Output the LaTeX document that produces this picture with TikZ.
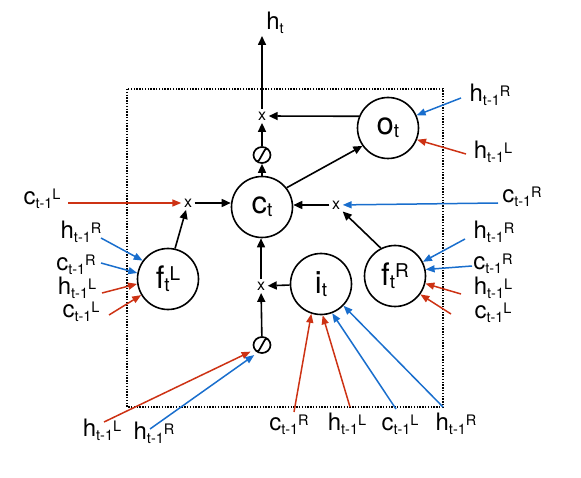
\documentclass[tikz,border=0pt]{standalone}
\usepackage{fontspec}
\setmainfont{TeX Gyre Heros}
\usetikzlibrary{arrows.meta,shapes.geometric}
\definecolor{myred}{RGB}{205,50,20}
\definecolor{myblue}{RGB}{25,110,205}
\newcommand\mylab[3]{#1{\fontsize{14.5}{14.5}\selectfont\raisebox{-3.5pt}{#2}\raisebox{5pt}{#3}}}
\newcommand\gatelab[3]{#1{\fontsize{19}{19}\selectfont\raisebox{-3pt}{#2}\raisebox{8pt}{#3}}}
\begin{document}
\begin{tikzpicture}[x=1pt,y=-1pt,
  gate/.style={circle,draw,line width=1.6pt,minimum size=61pt,inner sep=0pt,font=\fontsize{31}{31}\selectfont},
  mult/.style={inner sep=2.5pt,font=\fontsize{16}{16}\selectfont},
  squash/.style={ellipse,draw,line width=1.7pt,minimum width=17pt,minimum height=16pt,inner sep=0pt,
    path picture={\draw[line width=1.7pt]
      ([shift={(-7pt,-6pt)}]path picture bounding box.center) .. controls
      ([shift={(-3pt,-8pt)}]path picture bounding box.center) and
      ([shift={(-2pt,-3pt)}]path picture bounding box.center) ..
      (path picture bounding box.center) .. controls
      ([shift={(2pt,3pt)}]path picture bounding box.center) and
      ([shift={(3pt,8pt)}]path picture bounding box.center) ..
      ([shift={(7pt,6pt)}]path picture bounding box.center);}},
  lab/.style={font=\fontsize{24}{24}\selectfont,inner sep=0pt},
  blk/.style={line width=1.6pt,-{Triangle[length=9pt,width=8pt]}},
  rarr/.style={myred,line width=1.5pt,-{Triangle[length=9pt,width=7pt]}},
  barr/.style={myblue,line width=1.5pt,-{Triangle[length=9pt,width=7pt]}}]
\useasboundingbox (0,0) rectangle (581,478);
\draw[line width=1.4pt,dash pattern=on 1.4pt off 1.4pt] (127,89) rectangle (443,407);
% gates
\node[gate] (ct) at (262,207) {\gatelab{c}{t}{}};
\node[gate] (ot) at (388,128) {\gatelab{o}{t}{}};
\node[gate] (it) at (321,284) {\gatelab{i}{t}{}};
\node[gate] (fL) at (168,279) {\gatelab{f}{t}{L}};
\node[gate] (fR) at (395,276) {\gatelab{f}{t}{R}};
\node[mult] (xo) at (262,116) {x};
\node[mult] (xl) at (188,203) {x};
\node[mult] (xr) at (336,205) {x};
\node[mult] (xi) at (261,286) {x};
\node[squash] (tc) at (262,155) {};
\node[squash] (ti) at (262,345) {};
\node[lab] (ht) at (275,23) {\mylab{h}{t}{}};
\coordinate (htip) at (262,36);
% black connectors
\draw[blk] (xo) -- (htip);
\draw[blk] (ot.158) -- (xo);
\draw[blk] (tc) -- (xo);
\draw[blk] (ct) -- (tc);
\draw[blk] (ct.38) -- (ot.215);
\draw[blk] (xl) -- (xl -| ct.west);
\draw[blk] (xr) -- (xr -| ct.east);
\draw[blk] (xi) -- (xi |- ct.south);
\draw[blk] (it) -- (xi);
\draw[blk] (ti) -- (xi);
\draw[blk] (fL.77) -- (xl);
\draw[blk] (fR.117) -- (xr);
% labels left
\node[lab] (lcL) at (42,199) {\mylab{c}{t-1}{L}};
\node[lab] (lfh1) at (81,232) {\mylab{h}{t-1}{R}};
\node[lab] (lfc1) at (76,265) {\mylab{c}{t-1}{R}};
\node[lab] (lfh2) at (77,288) {\mylab{h}{t-1}{L}};
\node[lab] (lfc2) at (81,312) {\mylab{c}{t-1}{L}};
\coordinate (a0) at (68,203);
\coordinate (a1) at (101,238);
\coordinate (a2) at (101,263);
\coordinate (a3) at (102,293);
\coordinate (a4) at (109,315);
\draw[rarr] (a0) -- (xl);
\draw[barr] (a1) -- (fL.144.5);
\draw[barr] (a2) -- (fL.169);
\draw[rarr] (a3) -- (fL.189);
\draw[rarr] (a4) -- (fL.211);
% labels right
\node[lab] (rcR) at (522,197) {\mylab{c}{t-1}{R}};
\node[lab] (rfh1) at (494,232) {\mylab{h}{t-1}{R}};
\node[lab] (rfc1) at (493,264) {\mylab{c}{t-1}{R}};
\node[lab] (rfh2) at (493,288) {\mylab{h}{t-1}{L}};
\node[lab] (rfc2) at (493,313) {\mylab{c}{t-1}{L}};
\coordinate (b0) at (498,203);
\coordinate (b1) at (465,239);
\coordinate (b2) at (472,266);
\coordinate (b3) at (461,294);
\coordinate (b4) at (451,314);
\draw[barr] (b0) -- (xr);
\draw[barr] (b1) -- (fR.27);
\draw[barr] (b2) -- (fR.12);
\draw[rarr] (b3) -- (fR.-14);
\draw[rarr] (b4) -- (fR.-36);
% o_t inputs
\node[lab] (oh1) at (490,95) {\mylab{h}{t-1}{R}};
\node[lab] (oh2) at (493,152) {\mylab{h}{t-1}{L}};
\coordinate (o1) at (461,98);
\coordinate (o2) at (466,154);
\draw[barr] (o1) -- (ot.24);
\draw[rarr] (o2) -- (ot.-22);
% bottom
\node[lab] (th1) at (102,430) {\mylab{h}{t-1}{L}};
\node[lab] (th2) at (154,433) {\mylab{h}{t-1}{R}};
\node[lab] (ic1) at (289,425) {\mylab{c}{t-1}{R}};
\node[lab] (ih1) at (347,424) {\mylab{h}{t-1}{L}};
\node[lab] (ic2) at (400,425) {\mylab{c}{t-1}{L}};
\node[lab] (ih2) at (456,424) {\mylab{h}{t-1}{R}};
\coordinate (t1) at (104,422);
\coordinate (t2) at (150,429);
\coordinate (i1) at (294,412);
\coordinate (i2) at (350,407);
\coordinate (i3) at (396,409);
\coordinate (i4) at (443,407);
\draw[rarr,shorten >=4pt] (t1) -- (ti.212);
\draw[barr,shorten >=4pt] (t2) -- (ti.240);
\draw[rarr] (i1) -- (it.-108);
\draw[rarr] (i2) -- (it.-87);
\draw[barr] (i3) -- (it.-69);
\draw[barr] (i4) -- (it.-44);
\end{tikzpicture}
\end{document}
